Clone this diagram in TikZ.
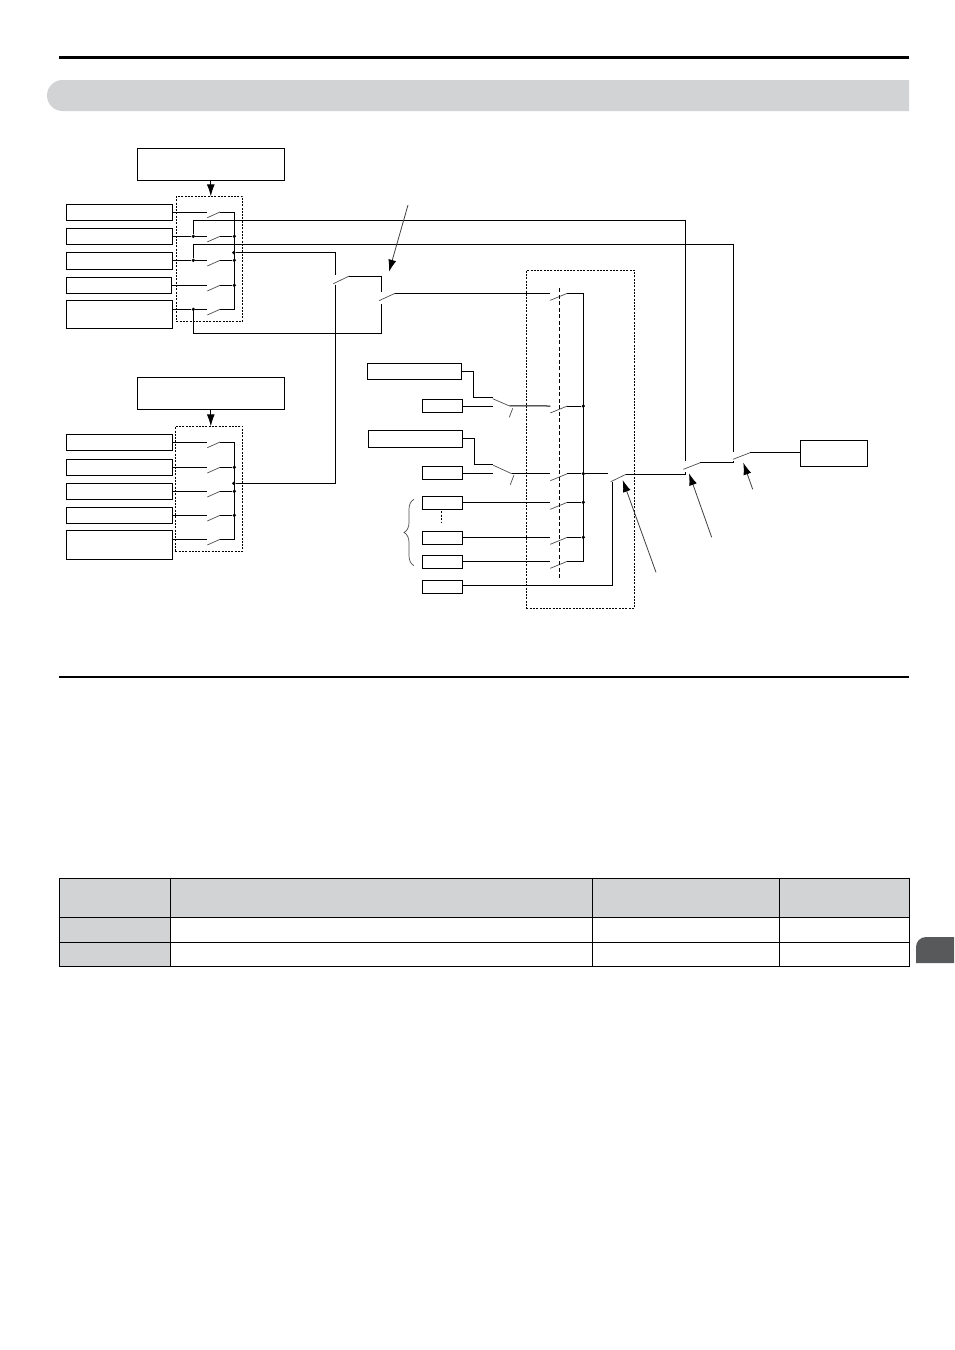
\documentclass[tikz,border=0pt]{standalone}
\usepackage{tikz}
\usetikzlibrary{arrows.meta}
\usetikzlibrary{decorations.pathreplacing}
\definecolor{bandgrey}{HTML}{D1D3D4}
\definecolor{tabgrey}{HTML}{58595B}

\begin{document}
\begin{tikzpicture}[x=1pt,y=-1pt]
        \tikzset{fbox/.style = {shape=rectangle,draw,line width=1pt,inner sep=0pt,outer sep=0pt}}
        \tikzset{headbox/.style = {fbox,minimum width=147,minimum height=32}}
        \tikzset{refbox/.style = {fbox,minimum width=106.4,minimum height=16}}
        \tikzset{widebox/.style = {fbox,minimum width=94,minimum height=16.5}}
        \tikzset{smallbox/.style = {fbox,minimum width=40.2,minimum height=13}}
        \tikzset{dotbox/.style = {fbox,line width=0.9pt,dash pattern=on 2pt off 1.3pt}}
        \tikzset{dot/.style = {shape=circle,fill=black,inner sep=0pt,minimum size=3.6pt}}
        \tikzset{wire/.style = {line width=1pt}}
        \tikzset{blade/.style = {line width=0.7pt,black!70}}
        \tikzset{edge/.style = {-{Latex[length=12pt,width=8pt,black]},line width=0.8pt,black!75}}
        \tikzset{headedge/.style = {-{Latex[length=12pt,width=8pt]},line width=1pt}}

        \useasboundingbox (0,0) rectangle (954,1350);

        % page furniture
        \draw[line width=3pt] (59,57) -- (909,57);
        \fill[bandgrey,rounded corners=15.5pt] (909,80) -- (47,80) -- (47,111) -- (909,111);
        \fill[bandgrey] (880,80) rectangle (909,111);
        \draw[line width=2pt] (59,677) -- (909,677);
        \fill[tabgrey] (954,963) -- (916,963) -- (916,947) arc[start angle=180,end angle=270,radius=10] -- (954,937) -- cycle;

        % table
        \fill[bandgrey] (59,878) rectangle (909,917);
        \fill[bandgrey] (59,917) rectangle (170,966);
        \draw[line width=1pt] (59,917) -- (909,917);
        \draw[line width=1pt] (59,942) -- (909,942);
        \draw[line width=1pt] (170,878) -- (170,966);
        \draw[line width=1pt] (592,878) -- (592,966);
        \draw[line width=1pt] (779,878) -- (779,966);
        \draw[line width=1pt] (59,878) rectangle (909,966);

        % upper group
        \node[headbox] (ahead) at (210.8,164.3) {};
        \node[dotbox,minimum width=66.4,minimum height=125] (agroup) at (209.5,258.8) {};
        \node[refbox] (a1) at (119.5,212.3) {};
        \node[refbox] (a2) at (119.5,236.3) {};
        \node[refbox,minimum height=17] (a3) at (119.5,260.8) {};
        \node[refbox,minimum width=105.4] (a4) at (119,285.3) {};
        \node[refbox,minimum height=28] (a5) at (119.5,314.3) {};

        % lower group
        \node[headbox] (bhead) at (210.8,393.3) {};
        \node[dotbox,minimum width=67.4,minimum height=125] (bgroup) at (209,488.8) {};
        \node[refbox] (b1) at (119.5,442.3) {};
        \node[refbox] (b2) at (119.5,467.3) {};
        \node[refbox] (b3) at (119.5,491.3) {};
        \node[refbox] (b4) at (119.5,515.3) {};
        \node[refbox,minimum height=29.4] (b5) at (119.5,545) {};

        % middle group
        \node[dotbox,minimum width=108,minimum height=338] (mgroup) at (580.3,439.3) {};
        \node[widebox,minimum height=16] (ma) at (414.3,371.3) {};
        \node[smallbox] (mb) at (442.3,405.8) {};
        \node[widebox,minimum width=94.4,minimum height=17] (mc) at (415.5,438.8) {};
        \node[smallbox] (md) at (442.5,472.8) {};
        \node[smallbox] (me) at (442.5,502.8) {};
        \node[smallbox] (mf) at (442.5,537.8) {};
        \node[smallbox] (mg) at (442.5,561.8) {};
        \node[smallbox] (mh) at (442.5,586.8) {};
        \node[fbox,minimum width=67,minimum height=26] (out) at (833.8,453.3) {};

        % junction dots
        \node[dot] (al2) at (193.3,236.3) {};
        \node[dot] (al3) at (193.3,260.3) {};
        \node[dot] (al5) at (193.3,309.3) {};
        \node[dot] (ad2) at (234.3,236.3) {};
        \node[dot] (ad3) at (234.3,260.3) {};
        \node[dot] (ad4) at (234.3,285.3) {};
        \node[dot] (atap) at (233.8,252.7) {};
        \node[dot] (bd2) at (234.3,467.3) {};
        \node[dot] (bd3) at (234.3,491.3) {};
        \node[dot] (bd4) at (234.3,515.3) {};
        \node[dot] (btap) at (233.8,483.3) {};
        \node[dot] (md2) at (583.3,406) {};
        \node[dot] (md3) at (583.3,473.7) {};
        \node[dot] (md4) at (583.3,502.3) {};
        \node[dot] (md5) at (583.3,537.3) {};

        % switch ends: l is the low end of the blade, o the high end
        \coordinate (a1l) at (207.3,217.7); \coordinate (a1o) at (220,212);
        \coordinate (a2l) at (207.3,241.9); \coordinate (a2o) at (220,236.3);
        \coordinate (a3l) at (207.3,266);   \coordinate (a3o) at (220,260.3);
        \coordinate (a4l) at (207.3,291);   \coordinate (a4o) at (220,285.3);
        \coordinate (a5l) at (207.3,315);   \coordinate (a5o) at (220,309.3);
        \coordinate (b1l) at (207.3,447.7); \coordinate (b1o) at (220,442);
        \coordinate (b2l) at (207.3,473);   \coordinate (b2o) at (220,467.3);
        \coordinate (b3l) at (207.3,497);   \coordinate (b3o) at (220,491.3);
        \coordinate (b4l) at (207.3,521);   \coordinate (b4o) at (220,515.3);
        \coordinate (b5l) at (207.3,545);   \coordinate (b5o) at (220,539.3);
        \coordinate (m1l) at (550.3,300.3); \coordinate (m1o) at (567.3,293.3);
        \coordinate (m2l) at (550.3,413);   \coordinate (m2o) at (567.3,406);
        \coordinate (m3l) at (550.3,480.7); \coordinate (m3o) at (567.3,473.7);
        \coordinate (m4l) at (550.3,509.3); \coordinate (m4o) at (567.3,502.3);
        \coordinate (m5l) at (550.3,544.3); \coordinate (m5o) at (567.3,537.3);
        \coordinate (m6l) at (550.3,568.3); \coordinate (m6o) at (567.3,561.3);
        \coordinate (g1l) at (333.3,283.7); \coordinate (g1o) at (349.3,276);
        \coordinate (g2l) at (379,300.7);   \coordinate (g2o) at (395,293.3);
        \coordinate (k1l) at (492.7,398.7); \coordinate (k1o) at (509.3,405.9);
        \coordinate (k2l) at (493.3,465.3); \coordinate (k2o) at (511.7,473.7);
        \coordinate (f1l) at (610.7,481.7); \coordinate (f1o) at (626,474.3);
        \coordinate (f2l) at (683.3,469.3); \coordinate (f2o) at (700.3,462.7);
        \coordinate (f3l) at (733,459.3);   \coordinate (f3o) at (750,452.7);

        \draw[blade] (a1l) -- (a1o); \draw[blade] (a2l) -- (a2o);
        \draw[blade] (a3l) -- (a3o); \draw[blade] (a4l) -- (a4o);
        \draw[blade] (a5l) -- (a5o); \draw[blade] (b1l) -- (b1o);
        \draw[blade] (b2l) -- (b2o); \draw[blade] (b3l) -- (b3o);
        \draw[blade] (b4l) -- (b4o); \draw[blade] (b5l) -- (b5o);
        \draw[blade] (m1l) -- (m1o); \draw[blade] (m2l) -- (m2o);
        \draw[blade] (m3l) -- (m3o); \draw[blade] (m4l) -- (m4o);
        \draw[blade] (m5l) -- (m5o); \draw[blade] (m6l) -- (m6o);
        \draw[blade] (g1l) -- (g1o); \draw[blade] (g2l) -- (g2o);
        \draw[blade] (k1l) -- (k1o); \draw[blade] (k2l) -- (k2o);
        \draw[blade] (f1l) -- (f1o); \draw[blade] (f2l) -- (f2o);
        \draw[blade] (f3l) -- (f3o);

        % the short ticks under the two change-over contacts
        \coordinate (k1t) at (512.7,408.3); \coordinate (k1b) at (509.3,417.3);
        \coordinate (k2t) at (514,475);     \coordinate (k2b) at (510.3,484.7);
        \draw[blade] (k1t) -- (k1b);
        \draw[blade] (k2t) -- (k2b);

        % upper group wiring
        \draw[headedge] (ahead.south) -- (ahead.south |- agroup.north);
        \draw[wire] (a1.east |- a1o) -- (a1l |- a1o);
        \draw[wire] (a2.east |- a2o) -- (al2) -- (a2l |- a2o);
        \draw[wire] (a3.east |- a3o) -- (al3) -- (a3l |- a3o);
        \draw[wire] (a4.east |- a4o) -- (a4l |- a4o);
        \draw[wire] (a5.east |- a5o) -- (al5) -- (a5l |- a5o);
        \coordinate (abt) at (234.3,212);
        \coordinate (abb) at (234.3,309.3);
        \draw[wire] (a1o) -- (abt) -- (abb) -- (a5o);
        \draw[wire] (a2o) -- (ad2);
        \draw[wire] (a3o) -- (ad3);
        \draw[wire] (a4o) -- (ad4);

        % lower group wiring
        \draw[headedge] (bhead.south) -- (bhead.south |- bgroup.north);
        \draw[wire] (b1.east |- b1o) -- (b1l |- b1o);
        \draw[wire] (b2.east |- b2o) -- (b2l |- b2o);
        \draw[wire] (b3.east |- b3o) -- (b3l |- b3o);
        \draw[wire] (b4.east |- b4o) -- (b4l |- b4o);
        \draw[wire] (b5.east |- b5o) -- (b5l |- b5o);
        \coordinate (bbt) at (234.3,442);
        \coordinate (bbb) at (234.3,539.3);
        \draw[wire] (b1o) -- (bbt) -- (bbb) -- (b5o);
        \draw[wire] (b2o) -- (bd2);
        \draw[wire] (b3o) -- (bd3);
        \draw[wire] (b4o) -- (bd4);

        % selector between the two groups
        \coordinate (g1u) at (335.3,275);
        \coordinate (g1d) at (335.3,284.5);
        \coordinate (g2u) at (381.3,291.7);
        \coordinate (g2d) at (381.3,304);
        \coordinate (alow) at (193.3,333.3);
        \draw[wire] (atap) -| (g1u);
        \draw[wire] (g1d) |- (btap);
        \draw[wire] (g1o) -| (g2u);
        \draw[wire] (g2d) -- (g2d |- alow) -- (alow) -- (al5);
        \draw[wire] (g2o) -- (m1l |- m1o);

        % middle group wiring
        \coordinate (mat) at (473.3,397.3);
        \coordinate (mct) at (474.3,464.3);
        \coordinate (mhc) at (612.3,585.3);
        \draw[wire] (ma.east) -| (mat) -- (k1l |- mat);
        \draw[wire] (mb.east |- md2) -- (k1l |- md2);
        \draw[wire] (mc.east) -| (mct) -- (k2l |- mct);
        \draw[wire] (md.east |- md3) -- (k2l |- md3);
        \draw[wire] (k1o) -- (m2l |- m2o);
        \draw[wire] (k2o) -- (m3l |- m3o);
        \draw[wire] (me.east |- m4o) -- (m4l |- m4o);
        \draw[wire] (mf.east |- m5o) -- (m5l |- m5o);
        \draw[wire,line width=0.8pt] (mg.east |- m6o) -- (m6l |- m6o);
        \coordinate (mbt) at (583.3,293.3);
        \coordinate (mbb) at (583.3,561.3);
        \draw[wire] (m1o) -- (mbt) -- (mbb) -- (m6o);
        \draw[wire] (m2o) -- (md2);
        \draw[wire] (m3o) -- (md3);
        \draw[wire] (m4o) -- (md4);
        \draw[wire] (m5o) -- (md5);
        \coordinate (mtop) at (559.3,288.3);
        \coordinate (mbot) at (559.3,580);
        \draw[line width=0.9pt,dash pattern=on 4pt off 2.5pt] (mtop) -- (mbot);
        \coordinate (skipt) at (441.3,511);
        \coordinate (skipb) at (441.3,523);
        \draw[line width=0.9pt,dash pattern=on 2pt off 1.5pt] (skipt) -- (skipb);
        \coordinate (brt) at (414,499.3);
        \coordinate (brb) at (414,565.7);
        \draw[line width=0.7pt,black!70,decorate,decoration={brace,amplitude=10pt,aspect=0.5}] (brb) -- (brt);

        % output side
        \coordinate (f1i) at (608,473.7);
        \coordinate (f1d) at (612.3,482.3);
        \coordinate (f2e) at (685.3,474.3);
        \coordinate (f2d) at (685.3,471.7);
        \coordinate (f2u) at (685.3,461);
        \coordinate (f3e) at (733.3,463.3);
        \coordinate (f3d) at (733.3,460.7);
        \coordinate (f3u) at (733.3,451.7);
        \coordinate (ahi2) at (193.3,220.3);
        \coordinate (ahi3) at (193.3,244.3);
        \draw[wire] (md3) -- (f1i);
        \draw[wire] (mh.east |- mhc) -- (mhc) -- (f1d);
        \draw[wire] (f1o) -- (f2e) -- (f2d);
        \draw[wire] (f2o) -- (f2o -| f3e) -- (f3d);
        \draw[wire] (f3o) -- (out.west |- f3o);
        \draw[wire] (al2) -- (ahi2) -| (f2u);
        \draw[wire] (al3) -- (ahi3) -| (f3u);

        % pointers
        \coordinate (p1a) at (408,205);   \coordinate (p1b) at (389,271.7);
        \coordinate (p2a) at (656,572.3); \coordinate (p2b) at (622.7,480);
        \coordinate (p3a) at (711.7,537.3); \coordinate (p3b) at (689,473.3);
        \coordinate (p4a) at (752.7,489.3); \coordinate (p4b) at (743.3,462.7);
        \draw[edge] (p1a) -- (p1b);
        \draw[edge] (p2a) -- (p2b);
        \draw[edge] (p3a) -- (p3b);
        \draw[edge] (p4a) -- (p4b);

\end{tikzpicture}
\end{document}
